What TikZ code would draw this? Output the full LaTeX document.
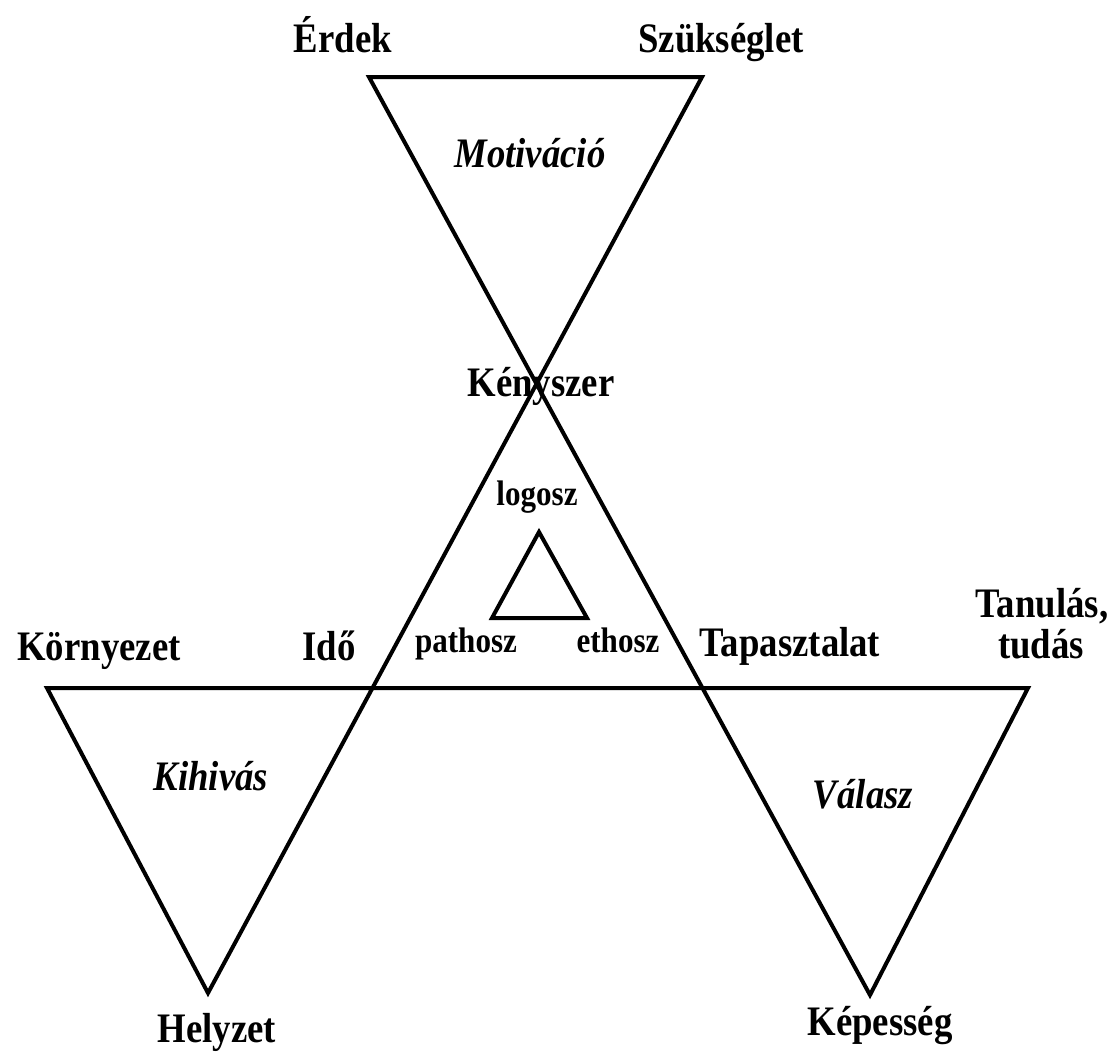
\documentclass[tikz,border=0pt]{standalone}
\usepackage{fontspec}
\setmainfont{Liberation Serif}[FakeStretch=0.875]
\usetikzlibrary{positioning}
\tikzset{
  biglbl/.style={font=\fontsize{42}{42}\selectfont\bfseries, anchor=base, inner sep=0pt},
  itlbl/.style={font=\fontsize{42}{42}\selectfont\bfseries\itshape, anchor=base, inner sep=0pt},
  smalllbl/.style={font=\fontsize{35.5}{35.5}\selectfont\bfseries, anchor=base, inner sep=0pt},
  triline/.style={line width=4pt, line join=miter},
}
\begin{document}
\begin{tikzpicture}[x=1pt, y=-1pt]
    \useasboundingbox (0,0) rectangle (1117,1052);
    % corners of the big figure
    \coordinate (tl) at (369,77);
    \coordinate (tr) at (702,77);
    \coordinate (left) at (47,688);
    \coordinate (right) at (1028,688);
    \coordinate (hely) at (208,993);
    \coordinate (kep) at (870,995);
    % inner triangle
    \coordinate (lg) at (539,532);
    \coordinate (et) at (587,618);
    \coordinate (pt) at (492,618);
    \draw[triline] (left) -- (right) -- (kep) -- (tl) -- (tr) -- (hely) -- cycle;
    \draw[triline] (lg) -- (et) -- (pt) -- cycle;
    % labels
    \node[biglbl] (erdek) at (343,52) {Érdek};
    \node[biglbl] (szuks) at (721,52) {Szükséglet};
    \node[itlbl] (motiv) at (530,167) {Motiváció};
    \node[biglbl] (kenysz) at (541,396) {Kényszer};
    \node[smalllbl] (logosz) at (537,505) {logosz};
    \node[smalllbl] (pathosz) at (466,652) {pathosz};
    \node[smalllbl] (ethosz) at (618,652) {ethosz};
    \node[biglbl] (kornyez) at (99,660) {Környezet};
    \node[biglbl] (ido) at (329,660) {Idő};
    \node[biglbl] (tapaszt) at (790,656) {Tapasztalat};
    \node[biglbl] (tanulas) at (1042,617) {Tanulás,};
    \node[biglbl] (tudas) at (1041,658) {tudás};
    \node[itlbl] (kihivas) at (211,790) {Kihivás};
    \node[itlbl] (valasz) at (863,808) {Válasz};
    \node[biglbl] (helyzet) at (217,1042) {Helyzet};
    \node[biglbl] (kepess) at (880,1035) {Képesség};
\end{tikzpicture}
\end{document}
